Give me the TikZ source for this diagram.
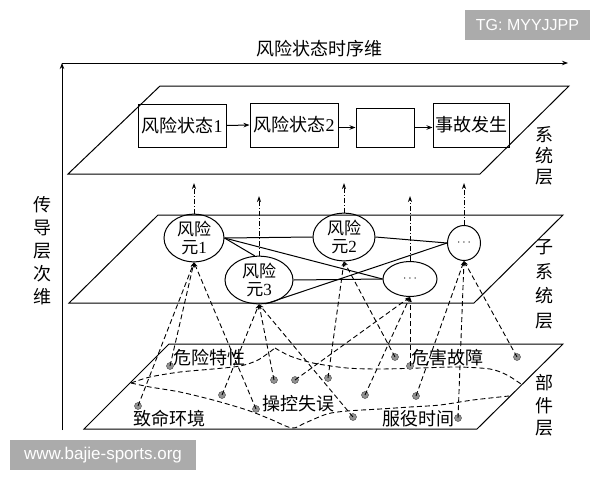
\documentclass[tikz,border=0pt]{standalone}
\usepackage{fontspec}
\setmainfont{Liberation Serif}
\newfontfamily\cjk{Noto Sans CJK SC}
\newfontfamily\wmfont{Liberation Sans}
\usetikzlibrary{shapes.geometric,arrows.meta}
\begin{document}
\begin{tikzpicture}[x=1pt,y=-1pt,
  plane/.style={line width=1pt},
  stbox/.style={draw,line width=1pt,inner sep=0pt,font=\fontsize{18}{20}\selectfont},
  elli/.style={draw,ellipse,line width=1pt,inner sep=0pt,align=center,font=\fontsize{17}{18}\selectfont},
  link/.style={line width=1pt},
  flow/.style={line width=1pt,-{Stealth[length=6pt,width=4.5pt]}},
  dashdot/.style={line width=0.9pt,dash pattern=on 5pt off 2pt on 1pt off 2pt,-{Stealth[length=6pt,width=4pt]}},
  dashconn/.style={line width=0.9pt,dash pattern=on 5pt off 3pt,-{Stealth[length=5pt,width=3.5pt]}},
  region/.style={line width=0.9pt,dash pattern=on 5pt off 3pt},
  dotp/.style={circle,fill=gray!85,draw=gray!50!black,line width=0.4pt,inner sep=0pt,minimum size=7pt},
  lbl/.style={font=\cjk\fontsize{18}{23}\selectfont,align=center,inner sep=0pt},
  txt/.style={font=\cjk\fontsize{18}{20}\selectfont,inner sep=0pt},
  wm/.style={fill=black!33,text=white,font=\wmfont\fontsize{17}{20}\selectfont,inner sep=0pt}
]
\useasboundingbox[fill=white] (0,0) rectangle (600,480);

% watermarks
\node[wm,minimum width=125pt,minimum height=30pt,font=\wmfont\fontsize{16}{20}\selectfont] (wm1) at (527.5,25) {TG: MYYJJPP};
\node[wm,minimum width=186pt,minimum height=30pt] (wm2) at (103,455) {www.bajie-sports.org};

% axes
\coordinate (o) at (62,430);
\coordinate (ytop) at (62,63);
\coordinate (xend) at (568,63);
\draw[flow] (o) -- (ytop);
\draw[flow] (ytop) -- (xend);
\node[txt] (title) at (319,49) {风险状态时序维};
\node[lbl] (dim) at (42,251) {传\\导\\层\\次\\维};

% planes
\draw[plane] (160,86) -- (569,86) -- (480,174) -- (68,174) -- cycle;
\draw[plane] (158,215) -- (563,215) -- (474,303) -- (69,303) -- cycle;
\draw[plane] (169,344) -- (563,344) -- (477,429) -- (84,429) -- cycle;

% layer labels
\node[lbl,font=\cjk\fontsize{18}{21}\selectfont] (l1) at (544,156) {系\\统\\层};
\node[lbl,font=\cjk\fontsize{18}{24.5}\selectfont] (l2) at (544,284.5) {子\\系\\统\\层};
\node[lbl,font=\cjk\fontsize{18}{22.5}\selectfont] (l3) at (544,405.5) {部\\件\\层};

% system layer
\node[stbox,minimum width=88pt,minimum height=43pt] (s1) at (182,125.5) {{\cjk 风险状态}1};
\node[stbox,minimum width=88pt,minimum height=44pt] (s2) at (294,125) {{\cjk 风险状态}2};
\node[stbox,minimum width=58pt,minimum height=39pt] (s3) at (385,127.5) {};
\node[stbox,minimum width=76pt,minimum height=44pt] (s4) at (471,125) {{\cjk 事故发生}};
\draw[flow] (s1.east) -- (s2.west);
\draw[flow] (s2.east |- s3) -- (s3.west);
\draw[flow] (s3.east) -- (s4.west |- s3);

% subsystem layer
\node[elli,minimum width=60pt,minimum height=46pt] (e1) at (194,238) {{\cjk 风险}\\{\cjk 元}1};
\node[elli,minimum width=62pt,minimum height=42pt] (e2) at (344,237) {{\cjk 风险}\\{\cjk 元}2};
\node[elli,minimum width=33pt,minimum height=35pt,font=\fontsize{12}{12}\selectfont] (d1) at (464,243) {$\cdots$};
\node[elli,minimum width=68pt,minimum height=44pt] (e3) at (259,280) {{\cjk 风险}\\{\cjk 元}3};
\node[elli,minimum width=54pt,minimum height=35pt,font=\fontsize{12}{12}\selectfont] (d2) at (410,279) {$\cdots$};

\draw[link] (e1.east) -- (e2.west);
\draw[link] (e1.east) -- (e3.100);
\draw[link] (e1.east) -- (d2.west);
\draw[link] (e2.east) -- (d1.west);
\draw[link] (e3.east) -- (d2.west);
\draw[link] (e3.-75) -- (d1.west);

% upward dash-dot arrows
\coordinate (hi) at (0,183);
\coordinate (lo) at (0,196);
\draw[dashdot] (e1.north) -- (e1.north |- hi);
\draw[dashdot] (e2.north) -- (e2.north |- hi);
\draw[dashdot] (d1.north) -- (d1.north |- hi);
\draw[dashdot] (e3.north) -- (e3.north |- lo);
\draw[dashdot] (d2.north) -- (d2.north |- lo);

% component layer regions
\draw[region] plot[smooth] coordinates {(131,383) (150,377) (180,372) (213,369) (240,366) (258,360) (275,348)};
\draw[region] plot[smooth] coordinates {(275,348) (290,356) (313,363) (347,368) (380,369) (420,368) (457,367) (490,369) (507,375) (521,384)};
\draw[region] plot[smooth] coordinates {(131,383) (150,387) (180,392) (213,400) (247,410) (270,419) (292,428) (305,423) (327,414) (347,411) (380,409) (410,407) (440,405) (473,400) (509,396)};

% component labels
\node[txt] (c1) at (209,358) {危险特性};
\node[txt] (c2) at (447,358) {危害故障};
\node[txt] (c3) at (169,419) {致命环境};
\node[txt] (c4) at (298,404) {操控失误};
\node[txt] (c5) at (418,419) {服役时间};

% points
\node[dotp] (p1) at (138,406) {};
\node[dotp] (p2) at (170,366) {};
\node[dotp] (p3) at (222,395) {};
\node[dotp] (p4) at (256,409) {};
\node[dotp] (p5) at (274,380) {};
\node[dotp] (p6) at (295,380) {};
\node[dotp] (p7) at (328,378) {};
\node[dotp] (p8) at (353,417) {};
\node[dotp] (p9) at (365,395) {};
\node[dotp] (p10) at (395,357) {};
\node[dotp] (p11) at (410,366) {};
\node[dotp] (p12) at (416,396) {};
\node[dotp] (p13) at (458,418) {};
\node[dotp] (p14) at (517,357) {};

% dashed connectors up to subsystem nodes
\draw[dashconn] (p1.center) -- (e1.south);
\draw[dashconn] (p2.center) -- (e1.south);
\draw[dashconn] (p4.center) -- (e1.south);
\draw[dashconn] (p3.center) -- (e3.south);
\draw[dashconn] (p5.center) -- (e3.south);
\draw[dashconn] (p8.center) -- (e3.south);
\draw[dashconn] (p7.center) -- (e2.south);
\draw[dashconn] (p10.center) -- (e2.south);
\draw[dashconn] (p6.center) -- (d2.south);
\draw[dashconn] (p9.center) -- (d2.south);
\draw[dashconn] (p11.center) -- (d2.south);
\draw[dashconn] (p12.center) -- (d1.south);
\draw[dashconn] (p13.center) -- (d1.south);
\draw[dashconn] (p14.center) -- (d1.south);
\end{tikzpicture}
\end{document}
